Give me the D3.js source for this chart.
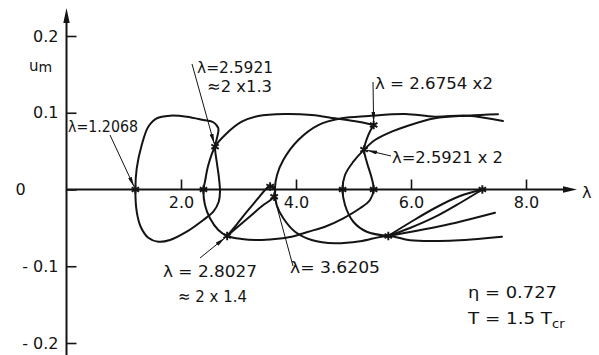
<!DOCTYPE html>
<html>
<head>
<meta charset="utf-8">
<script src="https://cdn.jsdelivr.net/npm/d3@7"></script>
<style>
  body { margin: 0; background: #fff; }
  svg { display: block; }
  text { font-family: "DejaVu Sans", "Liberation Sans", sans-serif; fill: #141414; }
</style>
</head>
<body>
<svg id="chart" width="599" height="355"></svg>
<script>
// ---- axis ticks ----
const xTicks = [2, 4, 6, 8];
const xTickLabels = ["2.0", "4.0", "6.0", "8.0"];
const yTicks = [0.2, 0.1, 0, -0.1, -0.2];
const yTickLabels = ["0.2", "0.1", "0", "- 0.1", "- 0.2"];

// ---- solution branches, [lambda, u_m] ----
// primary closed loop starting at lambda = 1.2068
const branchPrimary = [
  [1.2068, 0.0], [1.230, 0.0276], [1.317, 0.0580], [1.431, 0.0818], [1.577, 0.0928],
  [1.809, 0.0962], [2.099, 0.0949], [2.388, 0.0906], [2.562, 0.0876], [2.649, 0.0797],
  [2.631, 0.0688], [2.5921, 0.0558], [2.621, 0.0362], [2.661, 0.0146], [2.678, -0.0029],
  [2.656, -0.0159], [2.562, -0.0289], [2.388, -0.0397], [2.099, -0.0550], [1.809, -0.0658],
  [1.605, -0.0680], [1.431, -0.0628], [1.299, -0.0485], [1.230, -0.0289]
];
// large loop through lambda = 2.5921, 2.8027 and the doubled points
const branchLoop = [
  [5.3508, 0.0840], [5.083, 0.0883], [4.678, 0.0928], [4.273, 0.0971], [3.809, 0.0984],
  [3.344, 0.0958], [3.056, 0.0883], [2.765, 0.0710], [2.5921, 0.0558], [2.475, 0.0319],
  [2.417, 0.0102], [2.391, 0.0], [2.417, -0.0202], [2.504, -0.0375], [2.649, -0.0528],
  [2.8027, -0.0606], [3.056, -0.0645], [3.344, -0.0658], [3.635, -0.0645], [3.925, -0.0615],
  [4.214, -0.0550], [4.504, -0.0485], [4.823, -0.0375], [5.113, -0.0245], [5.287, -0.0137],
  [5.350, 0.0], [5.317, 0.0146], [5.230, 0.0362], [5.1842, 0.0520], [5.257, 0.0710],
  [5.3508, 0.0840]
];
// open branch wrapping round lambda = 3.6
const branchOuter = [
  [7.600, 0.0893], [6.991, 0.0962], [6.417, 0.0949], [5.896, 0.0984], [5.257, 0.0958],
  [4.795, 0.0928], [4.388, 0.0840], [4.040, 0.0645], [3.779, 0.0385], [3.670, 0.0189],
  [3.632, 0.0], [3.664, -0.0202], [3.779, -0.0375], [3.983, -0.0550], [4.273, -0.0658],
  [4.678, -0.0701], [5.113, -0.0675], [5.6054, -0.0605], [5.983, -0.0662], [6.678, -0.0667],
  [7.583, -0.0615]
];
// branch through lambda = 2.5921 x 2
const branchDoubled = [
  [7.513, 0.0980], [6.991, 0.0962], [6.417, 0.0928], [5.896, 0.0818], [5.664, 0.0753],
  [5.374, 0.0645], [5.1842, 0.0520], [4.997, 0.0362], [4.852, 0.0189], [4.810, 0.0],
  [4.852, -0.0202], [4.997, -0.0420], [5.230, -0.0550], [5.6054, -0.0605]
];
// narrow loop between lambda = 2.8027 and 3.6205
const branchLensLeft = [
  [2.8027, -0.0606], [2.974, -0.0450], [3.157, -0.0280], [3.339, -0.0117], [3.461, -0.0007],
  [3.530, 0.0039], [3.583, 0.0046], [3.635, 0.0013], [3.635, -0.0046], [3.6205, -0.0095],
  [3.409, -0.0215], [3.183, -0.0362], [2.974, -0.0495], [2.8027, -0.0606]
];
// pair of branches between lambda = 2 x 2.8027 and 2 x 3.6205
const branchLensRightUpper = [
  [5.6054, -0.0605], [5.983, -0.0430], [6.417, -0.0241], [6.852, -0.0085], [7.241, 0.0]
];
const branchLensRightLower = [
  [5.6054, -0.0605], [5.983, -0.0502], [6.417, -0.0358], [6.852, -0.0176], [7.241, 0.0]
];
const branchSpur = [
  [5.6054, -0.0605], [6.500, -0.0480], [7.461, -0.0302]
];

// ---- bifurcation points ----
const bifLambda = [1.2068, 2.391, 2.5921, 2.8027, 3.550, 3.6205, 4.810, 5.1842, 5.3508, 5.350, 5.6054, 7.241];
const bifU      = [0.0,    0.0,   0.0558, -0.0606, 0.0040, -0.0095, 0.0,  0.0520, 0.0840, 0.0,   -0.0605, 0.0];

// ---- annotation texts ----
const noteTexts = ["λ=1.2068", "λ=2.5921", "≈2 x1.3", "λ = 2.6754 x2", "λ=2.5921 x 2",
                   "λ = 2.8027", "≈ 2 x 1.4", "λ= 3.6205"];
const paramTexts = ["η = 0.727", "T = 1.5 T", "cr"];

// ---- drawing ----
const ink = "#141414";
const svg = d3.select("#chart");
const x = d3.scaleLinear().domain([0, 8]).range([66, 526]);
const y = d3.scaleLinear().domain([-0.2, 0.2]).range([343, 36]);

svg.append("rect").attr("width", 599).attr("height", 355).attr("fill", "#fff");

const defs = svg.append("defs");
defs.append("marker")
  .attr("id", "head")
  .attr("viewBox", "0 0 10 4")
  .attr("refX", 10).attr("refY", 2)
  .attr("markerWidth", 10).attr("markerHeight", 4)
  .attr("markerUnits", "userSpaceOnUse")
  .attr("orient", "auto")
  .append("path").attr("d", "M0,0 L10,2 L0,4 Z").attr("fill", ink);

// x axis ticks and labels
const gx = svg.append("g")
  .attr("transform", `translate(0,${y(0)})`)
  .call(d3.axisBottom(x).tickValues(xTicks)
    .tickFormat((d, i) => xTickLabels[i])
    .tickSizeInner(-10).tickSizeOuter(0).tickPadding(7));
gx.select(".domain").remove();
gx.attr("font-family", null).attr("font-size", 16).attr("color", ink);
gx.selectAll("line").attr("stroke-width", 1.6);

// y axis ticks and labels
const gy = svg.append("g")
  .attr("transform", `translate(${x(0) + 0.5},0)`)
  .call(d3.axisLeft(y).tickValues(yTicks)
    .tickFormat((d, i) => yTickLabels[i])
    .tickSizeInner(-10).tickSizeOuter(0).tickPadding(8));
gy.select(".domain").remove();
gy.attr("font-family", null).attr("font-size", 16).attr("color", ink);
gy.selectAll("line").attr("stroke-width", 1.6);
gy.selectAll(".tick").filter(d => d === 0).select("text")
  .attr("x", -46).attr("text-anchor", "middle");

// axis lines with arrow heads
svg.append("line")
  .attr("x1", x(0)).attr("y1", y(0)).attr("x2", 566).attr("y2", y(0))
  .attr("stroke", ink).attr("stroke-width", 2);
svg.append("path")
  .attr("d", `M577,${y(0)} L563,${y(0) - 3.2} L563,${y(0) + 3.2} Z`)
  .attr("fill", ink);
svg.append("line")
  .attr("x1", x(0) + 0.5).attr("y1", 355).attr("x2", x(0) + 0.5).attr("y2", 20)
  .attr("stroke", ink).attr("stroke-width", 2);
svg.append("path")
  .attr("d", `M${x(0) + 0.5},8 L${x(0) - 2.7},23 L${x(0) + 3.7},23 Z`)
  .attr("fill", ink);

// axis titles
svg.append("text").attr("x", 582).attr("y", 198).attr("font-size", 16).text("λ");
const um = svg.append("text").attr("x", 29).attr("y", 71).attr("font-size", 15);
um.append("tspan").text("u");
um.append("tspan").attr("font-size", 14).attr("dy", 1).text("m");

// branches
const line = d3.line()
  .x(d => x(d[0])).y(d => y(d[1]))
  .curve(d3.curveCatmullRom.alpha(0.5));
const lineClosed = d3.line()
  .x(d => x(d[0])).y(d => y(d[1]))
  .curve(d3.curveCatmullRomClosed.alpha(0.5));

const curves = svg.append("g")
  .attr("fill", "none").attr("stroke", ink)
  .attr("stroke-width", 2).attr("stroke-linejoin", "round").attr("stroke-linecap", "round");
curves.append("path").attr("d", lineClosed(branchPrimary));
[branchLoop, branchOuter, branchDoubled, branchLensLeft,
 branchLensRightUpper, branchLensRightLower, branchSpur]
  .forEach(b => curves.append("path").attr("d", line(b)));

// bifurcation points as asterisks
const r = 4.3;
const c30 = r * Math.cos(Math.PI / 6), s30 = r * Math.sin(Math.PI / 6);
const starPath = `M0,${-r}L0,${r}M${-c30},${-s30}L${c30},${s30}M${-c30},${s30}L${c30},${-s30}`;
svg.append("g").selectAll("path")
  .data(d3.range(bifLambda.length))
  .join("path")
  .attr("transform", i => `translate(${x(bifLambda[i])},${y(bifU[i])})`)
  .attr("d", starPath)
  .attr("fill", "none").attr("stroke", ink).attr("stroke-width", 1.9);

// pointer lines from the notes to their points
const pointers = [
  { from: [110, 135], to: 0, head: true },
  { from: [192, 64],  to: 2, head: true },
  { from: [200, 258], to: 3, head: true },
  { from: [293, 266], to: 5, head: false },
  { from: [373, 82],  to: 8, head: true },
  { from: [391, 156], to: 7, head: true }
];
pointers.forEach(p => {
  const tx = x(bifLambda[p.to]), ty = y(bifU[p.to]);
  const dx = tx - p.from[0], dy = ty - p.from[1];
  const len = Math.hypot(dx, dy);
  const gap = p.head ? 3 : 2;
  const ln = svg.append("line")
    .attr("x1", p.from[0]).attr("y1", p.from[1])
    .attr("x2", tx - dx / len * gap).attr("y2", ty - dy / len * gap)
    .attr("stroke", ink).attr("stroke-width", 1);
  if (p.head) ln.attr("marker-end", "url(#head)");
});

// note texts
const notePlaces = [
  [68, 132, 70], [197, 73, 76], [207, 92, 65], [375, 89, 118], [392, 163, 111],
  [163, 277, 94], [178, 302, 69], [290, 273, 90]
];
noteTexts.forEach((t, i) => {
  svg.append("text")
    .attr("x", notePlaces[i][0]).attr("y", notePlaces[i][1])
    .attr("font-size", 16)
    .attr("textLength", notePlaces[i][2]).attr("lengthAdjust", "spacingAndGlyphs")
    .text(t);
});

// parameter block
svg.append("text").attr("x", 468).attr("y", 298).attr("font-size", 16)
  .attr("textLength", 89).attr("lengthAdjust", "spacingAndGlyphs")
  .text(paramTexts[0]);
const tt = svg.append("text").attr("x", 468).attr("y", 324).attr("font-size", 16);
tt.append("tspan").attr("textLength", 84).attr("lengthAdjust", "spacingAndGlyphs").text(paramTexts[1]);
tt.append("tspan").attr("font-size", 13).attr("dy", 4).text(paramTexts[2]);
</script>
</body>
</html>
